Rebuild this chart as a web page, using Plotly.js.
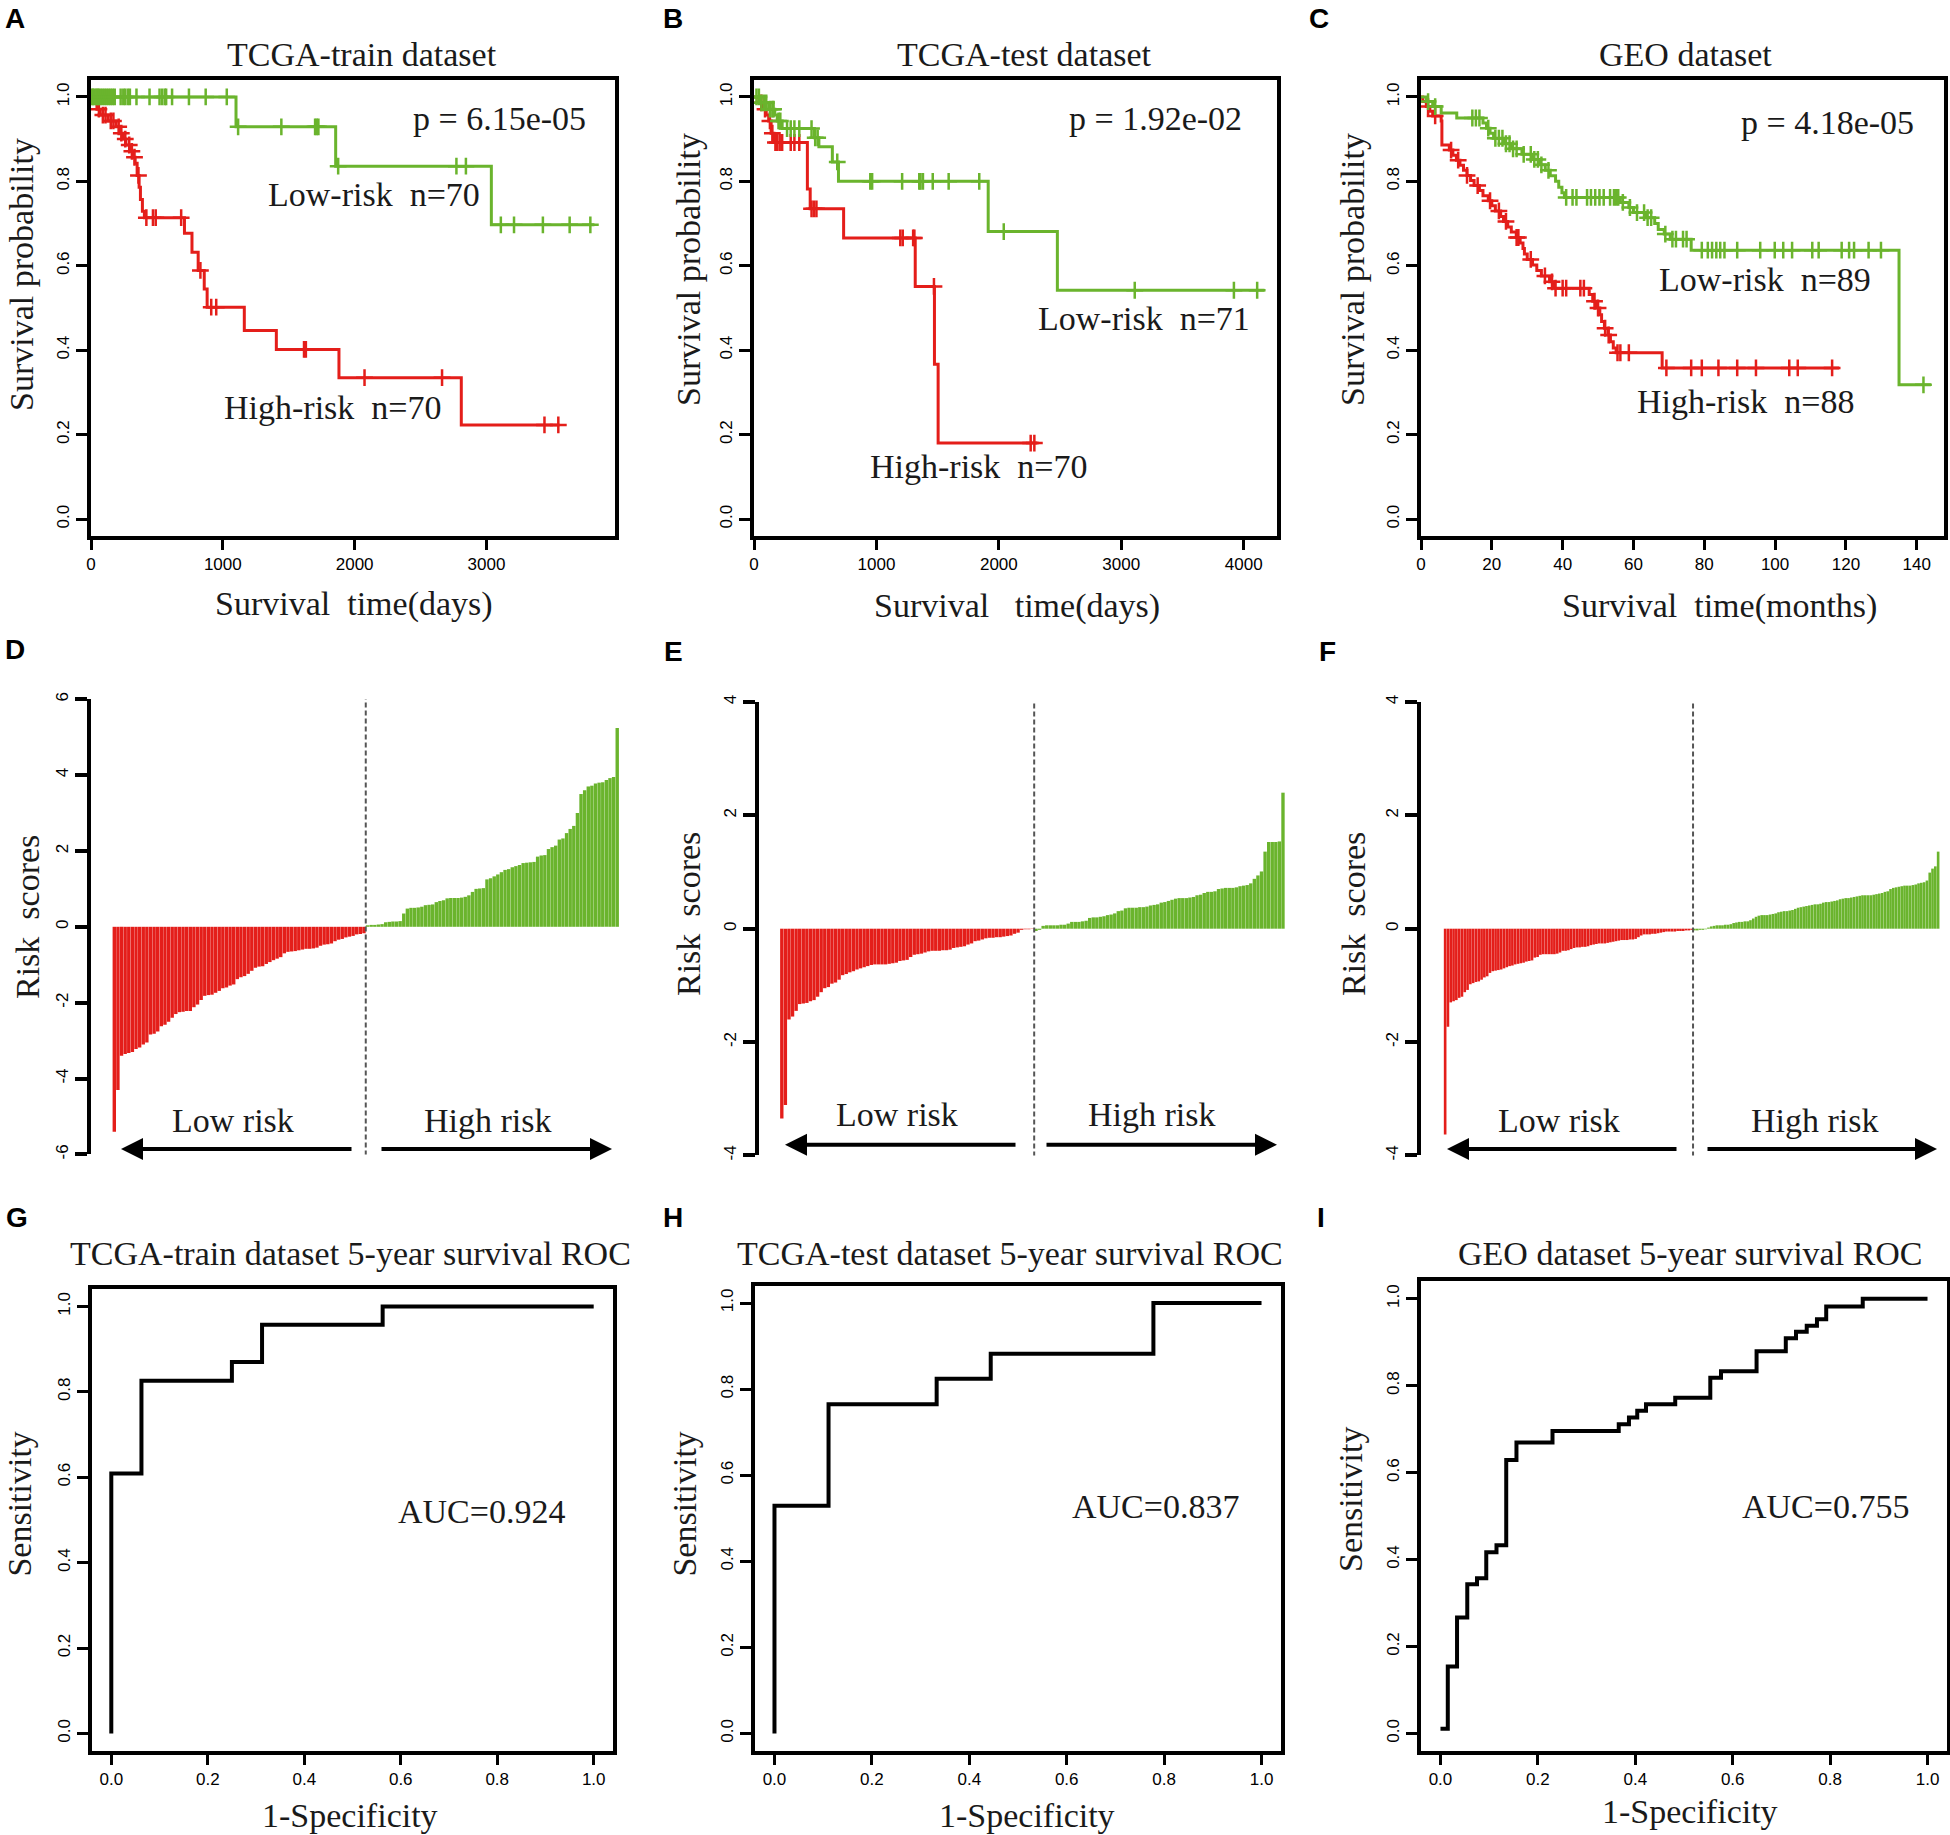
<!DOCTYPE html>
<html><head><meta charset="utf-8">
<script src="https://cdn.plot.ly/plotly-3.0.1.min.js"></script>
<style>html,body{margin:0;padding:0;background:#fff}</style>
</head><body><div id="chart" style="width:1950px;height:1835px"></div>
<script>
// ---------------- DATA ----------------
// Panel A: TCGA-train KM (days)
const kmA_low_t  = [0, 1100, 1856, 3037, 3819];
const kmA_low_s  = [1, 0.929, 0.836, 0.697, 0.697];
const kmA_low_cens = [5,15,25,40,50,60,75,90,105,120,135,150,165,180,225,245,260,280,295,345,444,520,540,560,570,615,743,870,1030,1116,1444,1700,1712,1725,1875,2772,2844,3109,3209,3428,3631,3788];
const kmA_high_t = [0,20,45,70,130,190,215,240,265,295,320,335,350,365,375,390,405,709,766,813,859,881,1163,1406,1881,2809,3553];
const kmA_high_s = [1,0.986,0.971,0.957,0.943,0.929,0.914,0.900,0.886,0.871,0.857,0.843,0.814,0.786,0.757,0.729,0.714,0.677,0.632,0.589,0.545,0.502,0.447,0.402,0.335,0.223,0.223];
const kmA_high_cens = [60,90,110,150,170,210,230,260,290,310,330,360,420,470,491,684,830,912,950,1616,1630,2075,2663,3440,3545];
const kmA_xticks = [0,1000,2000,3000];

// Panel B: TCGA-test KM (days)
const kmB_low_t  = [0,50,120,170,190,230,493,530,640,690,1913,2478,4170];
const kmB_low_s  = [1,0.986,0.971,0.957,0.943,0.925,0.903,0.882,0.846,0.800,0.681,0.542,0.542];
const kmB_low_cens = [20,40,60,80,100,130,150,160,200,215,270,300,330,370,470,500,520,680,950,965,1210,1350,1360,1380,1460,1590,1840,2040,3110,3920,4110];
const kmB_high_t = [0,40,70,100,120,140,163,436,459,732,1317,1474,1504,2315];
const kmB_high_s = [1,0.986,0.971,0.957,0.943,0.914,0.892,0.782,0.735,0.666,0.551,0.367,0.180,0.180];
const kmB_high_cens = [60,90,130,150,175,190,210,230,300,330,370,470,490,510,1195,1215,1300,1310,1470,2260,2290];
const kmB_xticks = [0,1000,2000,3000,4000];

// Panel C: GEO KM (months)
const kmC_low_t  = [0,1.5,3.3,5.7,10.1,17.5,18.5,19.5,20.5,23.3,25.5,28.5,31.6,33.5,35.1,36.5,38.0,38.9,39.8,40.5,56.3,58.7,60.0,63.4,66.0,67.0,68.7,70.4,76.3,135.0,144.0];
const kmC_low_s  = [1,0.989,0.977,0.962,0.950,0.938,0.926,0.914,0.902,0.889,0.877,0.864,0.852,0.839,0.826,0.813,0.800,0.786,0.773,0.762,0.750,0.738,0.726,0.714,0.700,0.686,0.675,0.663,0.637,0.318,0.318];
const kmC_low_cens = [2,4,14.5,15.5,16.5,19,21,22,23,24,25,26,27,29,31,32,33,34,36,41,42.8,43.9,46.9,48,49.2,50.4,51.6,53.4,54.5,55.1,55.7,57,59,61,63,64,65,69,71,72,74,75,79.3,81,82.2,83.4,84.5,85.7,89.3,95.8,99.9,102.3,104.8,110.5,112.3,118.8,120.9,122.3,126.4,129.9,141.9];
const kmC_high_t = [0,0.5,1.5,2.5,3.3,5.7,5.9,8,9,10,11,12,13,14,15,16.5,17.5,19,20,21,22.5,23.3,24.5,25.5,26.9,28,28.8,29.2,30,31.5,32.7,34,36.3,37.5,47.5,48.5,49.5,50.5,51,51.8,52.8,53.5,54.3,55.1,68.1,118.1];
const kmC_high_s = [1,0.989,0.977,0.966,0.955,0.943,0.886,0.874,0.862,0.850,0.838,0.826,0.814,0.802,0.790,0.778,0.766,0.754,0.742,0.730,0.717,0.705,0.692,0.680,0.667,0.654,0.641,0.628,0.615,0.602,0.589,0.576,0.562,0.547,0.532,0.516,0.500,0.484,0.468,0.452,0.436,0.420,0.405,0.394,0.358,0.358];
const kmC_high_cens = [2,4,8.5,10.5,13,16,19.5,22,24,27,27.5,31,35,37,38,40,41,45,46,49,50,52,53,55.5,56.3,58.7,69.3,76.3,79.3,84,89.3,94.6,104,106.4,116.1];
const kmC_xticks = [0,20,40,60,80,100,120,140];

const probTicks = [0,0.2,0.4,0.6,0.8,1.0];
const probTickText = ['0.0','0.2','0.4','0.6','0.8','1.0'];

// Panels D-F: risk scores (sorted)
const riskD_low = [-5.40,-4.30,-3.40,-3.35,-3.33,-3.30,-3.22,-3.18,-3.10,-3.05,
 -2.84,-2.82,-2.76,-2.62,-2.58,-2.50,-2.40,-2.30,-2.25,-2.24,
 -2.22,-2.22,-2.12,-2.05,-1.93,-1.82,-1.80,-1.79,-1.74,-1.69,
 -1.62,-1.60,-1.55,-1.52,-1.38,-1.33,-1.30,-1.24,-1.16,-1.08,
 -1.05,-1.04,-0.98,-0.93,-0.88,-0.84,-0.80,-0.70,-0.66,-0.65,
 -0.64,-0.62,-0.60,-0.58,-0.58,-0.57,-0.55,-0.50,-0.47,-0.46,
 -0.44,-0.38,-0.34,-0.32,-0.28,-0.26,-0.24,-0.20,-0.19,-0.17];
const riskD_high = [0.04,0.05,0.05,0.06,0.07,0.12,0.13,0.14,0.14,0.15,
 0.35,0.48,0.50,0.50,0.51,0.53,0.57,0.58,0.59,0.65,
 0.68,0.70,0.75,0.76,0.76,0.76,0.77,0.79,0.83,0.92,
 1.00,1.01,1.02,1.25,1.28,1.33,1.38,1.44,1.50,1.52,
 1.57,1.60,1.63,1.68,1.69,1.70,1.71,1.85,1.88,1.89,
 2.05,2.10,2.14,2.30,2.33,2.47,2.58,2.66,3.00,3.50,
 3.60,3.70,3.72,3.78,3.80,3.81,3.87,3.92,3.95,5.24];
const riskE_low = [-3.35,-3.11,-1.60,-1.55,-1.45,-1.33,-1.32,-1.31,-1.28,-1.26,
 -1.20,-1.12,-1.05,-1.03,-0.97,-0.95,-0.90,-0.82,-0.80,-0.77,
 -0.75,-0.72,-0.70,-0.68,-0.66,-0.64,-0.63,-0.63,-0.63,-0.63,
 -0.62,-0.61,-0.60,-0.57,-0.56,-0.55,-0.50,-0.46,-0.45,-0.44,
 -0.42,-0.40,-0.39,-0.39,-0.39,-0.38,-0.38,-0.37,-0.34,-0.33,
 -0.32,-0.31,-0.28,-0.26,-0.22,-0.21,-0.19,-0.17,-0.16,-0.16,
 -0.15,-0.15,-0.14,-0.13,-0.12,-0.09,-0.07,-0.02,-0.01,-0.01,-0.005];
const riskE_high = [-0.04,-0.02,0.05,0.06,0.06,0.06,0.06,0.07,0.07,0.09,
 0.12,0.12,0.12,0.13,0.14,0.19,0.20,0.20,0.21,0.22,
 0.24,0.25,0.27,0.31,0.32,0.36,0.37,0.37,0.37,0.38,
 0.38,0.39,0.41,0.42,0.43,0.46,0.47,0.49,0.51,0.53,
 0.54,0.54,0.54,0.55,0.56,0.59,0.60,0.63,0.65,0.65,
 0.66,0.70,0.71,0.72,0.72,0.72,0.73,0.75,0.76,0.77,
 0.80,0.88,0.94,1.01,1.36,1.53,1.53,1.53,1.54,2.40];
const riskF_low = [-3.63,-1.73,-1.30,-1.28,-1.26,-1.22,-1.20,-1.12,-1.08,-0.98,
 -0.96,-0.94,-0.93,-0.90,-0.86,-0.84,-0.78,-0.75,-0.74,-0.73,
 -0.72,-0.70,-0.68,-0.66,-0.65,-0.63,-0.62,-0.61,-0.60,-0.58,
 -0.57,-0.56,-0.51,-0.50,-0.46,-0.45,-0.45,-0.45,-0.45,-0.45,
 -0.44,-0.42,-0.39,-0.39,-0.38,-0.36,-0.34,-0.33,-0.33,-0.32,
 -0.32,-0.31,-0.29,-0.28,-0.27,-0.26,-0.26,-0.26,-0.25,-0.24,
 -0.23,-0.22,-0.21,-0.20,-0.20,-0.20,-0.19,-0.19,-0.18,-0.15,
 -0.12,-0.10,-0.10,-0.10,-0.09,-0.09,-0.08,-0.07,-0.06,-0.05,
 -0.05,-0.05,-0.05,-0.04,-0.04,-0.04,-0.03,-0.03,-0.02];
const riskF_high = [-0.03,-0.03,-0.02,-0.02,-0.01,0.02,0.04,0.05,0.06,0.06,
 0.06,0.07,0.07,0.08,0.10,0.11,0.12,0.12,0.13,0.13,
 0.15,0.18,0.21,0.23,0.24,0.24,0.24,0.25,0.26,0.27,
 0.29,0.30,0.31,0.31,0.32,0.33,0.35,0.37,0.38,0.39,
 0.40,0.41,0.42,0.43,0.43,0.44,0.46,0.47,0.47,0.48,
 0.49,0.50,0.52,0.53,0.54,0.54,0.55,0.56,0.57,0.58,
 0.59,0.59,0.59,0.59,0.60,0.61,0.62,0.63,0.65,0.66,
 0.70,0.72,0.73,0.74,0.75,0.76,0.76,0.76,0.77,0.78,
 0.80,0.81,0.82,0.85,0.99,1.06,1.10,1.36];
const riskD_ticks = [-6,-4,-2,0,2,4,6];
const riskEF_ticks = [-4,-2,0,2,4];

// Panels G-I: ROC curves
const rocG_fpr = [0,0,0.0625,0.25,0.3125,0.5625,1];
const rocG_tpr = [0,0.609,0.826,0.870,0.957,1,1];
const rocH_fpr = [0,0,0.111,0.333,0.444,0.778,1];
const rocH_tpr = [0,0.529,0.765,0.824,0.882,1,1];
const rocI_fpr = [0,0.015,0.034,0.055,0.075,0.094,0.115,0.135,0.156,0.23,0.366,0.387,0.404,0.422,0.482,0.554,0.576,0.649,0.709,0.73,0.752,0.773,0.792,0.867,1.0];
const rocI_tpr = [0.011,0.154,0.267,0.343,0.357,0.417,0.433,0.629,0.669,0.696,0.711,0.727,0.742,0.757,0.772,0.818,0.833,0.879,0.909,0.924,0.938,0.953,0.982,1.0,1.0];
const rocTicks = [0,0.2,0.4,0.6,0.8,1.0];
const rocTickText = ['0.0','0.2','0.4','0.6','0.8','1.0'];

// ---------------- STYLE / LAYOUT ----------------
const W = 1950, H = 1835;
const SERIF = '"Liberation Serif","Times New Roman",serif';
const SANS = '"Liberation Sans",Arial,sans-serif';
const NARROW = '"Liberation Sans Narrow","Arial Narrow","Liberation Sans",Arial,sans-serif';
const RED = '#E41E1A', GREEN = '#6AB42D';
const TXT = '#1a1a1a';

const boxes = {
  1:[91,615,80,536],     2:[754,1277,80,536],     3:[1421,1944,80,536],
  4:[91,625,699.2,1154.4], 5:[759,1290,702,1155.4], 6:[1421,1945,702,1155.4],
  7:[92,613,1289.3,1750.6], 8:[755,1281,1285.8,1750.7], 9:[1421,1947,1281.3,1750.9]
};
const sid = k => (k === 1 ? '' : String(k));
const domX = b => [b[0]/W, b[1]/W];
const domY = b => [1 - b[3]/H, 1 - b[2]/H];

const tickFont = {family: NARROW, size: 17, color: '#000'};
const boxAxis = {showline:true, mirror:true, linewidth:4, linecolor:'#000', ticks:'outside',
  ticklen:10, tickwidth:3, tickcolor:'#000', showgrid:false, zeroline:false, tickfont:tickFont, fixedrange:true};

const layout = {width:W, height:H, margin:{l:0,r:0,t:0,b:0}, autosize:false,
  paper_bgcolor:'#fff', plot_bgcolor:'#fff', showlegend:false, barmode:'overlay', bargap:0.06,
  annotations:[], shapes:[]};
const data = [];

function stepAt(ts, ss, t){ let v = ss[0]; for (let i=0;i<ts.length;i++){ if (ts[i] <= t) v = ss[i]; else break; } return v; }

function addKM(k, ts, ss, cens, color){
  const xa = 'x'+sid(k), ya = 'y'+sid(k);
  data.push({type:'scatter', mode:'lines', x:ts, y:ss, xaxis:xa, yaxis:ya,
    line:{shape:'hv', color:color, width:3}, hoverinfo:'skip'});
  data.push({type:'scatter', mode:'markers', x:cens, y:cens.map(c => stepAt(ts, ss, c)), xaxis:xa, yaxis:ya,
    marker:{symbol:'cross-thin', size:12, color:color, line:{width:2.5, color:color}}, hoverinfo:'skip'});
}
function boxAxes(k, xr, xt, xtt, yr, yt, ytt){
  const b = boxes[k];
  layout['xaxis'+sid(k)] = Object.assign({}, boxAxis, {domain:domX(b), range:xr, tickvals:xt, ticktext:xtt, anchor:'y'+sid(k), tickangle:0});
  layout['yaxis'+sid(k)] = Object.assign({}, boxAxis, {domain:domY(b), range:yr, tickvals:yt, ticktext:ytt, anchor:'x'+sid(k), tickangle:-90, ticklen:11});
}

// KM panels
addKM(1, kmA_high_t, kmA_high_s, kmA_high_cens, RED);
addKM(1, kmA_low_t, kmA_low_s, kmA_low_cens, GREEN);
boxAxes(1, [0,3975], kmA_xticks, kmA_xticks.map(String), [-0.04,1.04], probTicks, probTickText);
addKM(2, kmB_high_t, kmB_high_s, kmB_high_cens, RED);
addKM(2, kmB_low_t, kmB_low_s, kmB_low_cens, GREEN);
boxAxes(2, [0,4272], kmB_xticks, kmB_xticks.map(String), [-0.04,1.04], probTicks, probTickText);
addKM(3, kmC_high_t, kmC_high_s, kmC_high_cens, RED);
addKM(3, kmC_low_t, kmC_low_s, kmC_low_cens, GREEN);
boxAxes(3, [0,147.7], kmC_xticks, kmC_xticks.map(String), [-0.04,1.04], probTicks, probTickText);

// Risk score bar panels
function addRisk(k, low, high, xr, yr, yt){
  const xa = 'x'+sid(k), ya = 'y'+sid(k);
  const nL = low.length;
  data.push({type:'bar', x:low.map((v,i)=>i+1), y:low, xaxis:xa, yaxis:ya, marker:{color:RED, line:{width:0}}, hoverinfo:'skip'});
  data.push({type:'bar', x:high.map((v,i)=>nL+i+1), y:high, xaxis:xa, yaxis:ya, marker:{color:GREEN, line:{width:0}}, hoverinfo:'skip'});
  const b = boxes[k];
  layout['xaxis'+sid(k)] = {domain:domX(b), range:xr, visible:false, anchor:ya, fixedrange:true};
  layout['yaxis'+sid(k)] = {domain:domY(b), range:yr, anchor:xa, showline:true, linewidth:4, linecolor:'#000',
    ticks:'outside', ticklen:12, tickwidth:4, tickcolor:'#000', showgrid:false, zeroline:false,
    tickvals:yt, ticktext:yt.map(String), tickangle:-90, tickfont:tickFont, fixedrange:true};
  layout.shapes.push({type:'line', xref:xa, yref:ya, x0:nL+0.5, x1:nL+0.5, y0:yr[0]*1.005, y1:yr[1]*1.005,
    line:{color:'#555', width:2, dash:'5px,3px'}});
}
addRisk(4, riskD_low, riskD_high, [-5.44,142.15], [-6,6], riskD_ticks);
addRisk(5, riskE_low, riskE_high, [-5.37,142.96], [-4,4], riskEF_ticks);
addRisk(6, riskF_low, riskF_high, [-7.62,179.45], [-4,4], riskEF_ticks);

// ROC panels
function addROC(k, fpr, tpr){
  data.push({type:'scatter', mode:'lines', x:fpr, y:tpr, xaxis:'x'+sid(k), yaxis:'y'+sid(k),
    line:{shape:'hv', color:'#000', width:4}, hoverinfo:'skip'});
  boxAxes(k, [-0.04,1.04], rocTicks, rocTickText, [-0.04,1.04], rocTicks, rocTickText);
}
addROC(7, rocG_fpr, rocG_tpr);
addROC(8, rocH_fpr, rocH_tpr);
addROC(9, rocI_fpr, rocI_tpr);

// ---------------- TEXT ----------------
const NB = '\u00A0';
function txt(text, x, y, size, extra){
  layout.annotations.push(Object.assign({text:text, x:x/W, y:1-y/H, xref:'paper', yref:'paper', showarrow:false,
    xanchor:'center', yanchor:'middle', font:{family:SERIF, size:size, color:TXT}}, extra||{}));
}
function vtxt(text, x, y, size){ txt(text, x, y, size, {textangle:-90}); }
function letter(t, x, y){ txt('<b>'+t+'</b>', x, y, 28, {font:{family:SANS, size:28, color:'#000'}}); }
function arrow(headX, tailX, y){
  layout.annotations.push({text:'', x:headX/W, y:1-y/H, xref:'paper', yref:'paper', showarrow:true,
    ax:tailX-headX, ay:0, axref:'pixel', ayref:'pixel', arrowhead:2, arrowsize:1.1, arrowwidth:4,
    arrowcolor:'#000', standoff:0, startstandoff:0});
}

[['A',15,18],['B',673,18],['C',1319,18],['D',15,649],['E',673,651],['F',1327,651.5],['G',17,1217],['H',673,1217],['I',1321,1217]]
  .forEach(a => letter(a[0], a[1], a[2]));

// Row 1
txt('TCGA-train dataset', 362, 54.5, 34);
txt('TCGA-test dataset', 1024, 54.5, 34);
txt('GEO dataset', 1685, 54.5, 34);
txt('p = 6.15e-05', 499, 119, 34);
txt('p = 1.92e-02', 1155, 119, 34);
txt('p = 4.18e-05', 1827, 123, 34);
txt('Low-risk'+NB+NB+'n=70', 374, 194, 34);
txt('High-risk'+NB+NB+'n=70', 333, 407, 34);
txt('Low-risk'+NB+NB+'n=71', 1144, 318, 34);
txt('High-risk'+NB+NB+'n=70', 979, 467, 34);
txt('Low-risk'+NB+NB+'n=89', 1765, 279, 34);
txt('High-risk'+NB+NB+'n=88', 1746, 401, 34);
vtxt('Survival probability', 21, 275, 34);
vtxt('Survival probability', 689, 270, 34);
vtxt('Survival probability', 1353, 270, 34);
txt('Survival'+NB+NB+'time(days)', 354, 604, 34);
txt('Survival'+NB+NB+NB+'time(days)', 1017, 606, 34);
txt('Survival'+NB+NB+'time(months)', 1719, 606, 34);

// Row 2
vtxt('Risk'+NB+NB+'scores', 28, 917, 34);
vtxt('Risk'+NB+NB+'scores', 688, 914, 34);
vtxt('Risk'+NB+NB+'scores', 1353, 914, 34);
txt('Low risk', 233, 1120, 34);
txt('High risk', 488, 1120, 34);
txt('Low risk', 897, 1114.6, 34);
txt('High risk', 1152, 1114.6, 34);
txt('Low risk', 1559, 1120, 34);
txt('High risk', 1815, 1120, 34);
arrow(121, 353, 1149); arrow(612, 380, 1149);
arrow(785, 1017, 1144.7); arrow(1277, 1045, 1144.7);
arrow(1447, 1678, 1149); arrow(1937, 1706, 1149);

// Row 3
txt('TCGA-train dataset 5-year survival ROC', 350, 1253, 34);
txt('TCGA-test dataset 5-year survival ROC', 1010, 1253, 34);
txt('GEO dataset 5-year survival ROC', 1690, 1253, 34);
txt('AUC=0.924', 481, 1511, 34);
txt('AUC=0.837', 1155, 1506.7, 34);
txt('AUC=0.755', 1825, 1506.7, 34);
txt('1-Specificity', 350, 1815.8, 34);
txt('1-Specificity', 1027, 1815.8, 34);
txt('1-Specificity', 1690, 1811.5, 34);
vtxt('Sensitivity', 20, 1504.6, 34);
vtxt('Sensitivity', 685, 1504.6, 34);
vtxt('Sensitivity', 1350, 1500, 34);

Plotly.newPlot('chart', data, layout, {displayModeBar:false, staticPlot:true});
</script></body></html>
